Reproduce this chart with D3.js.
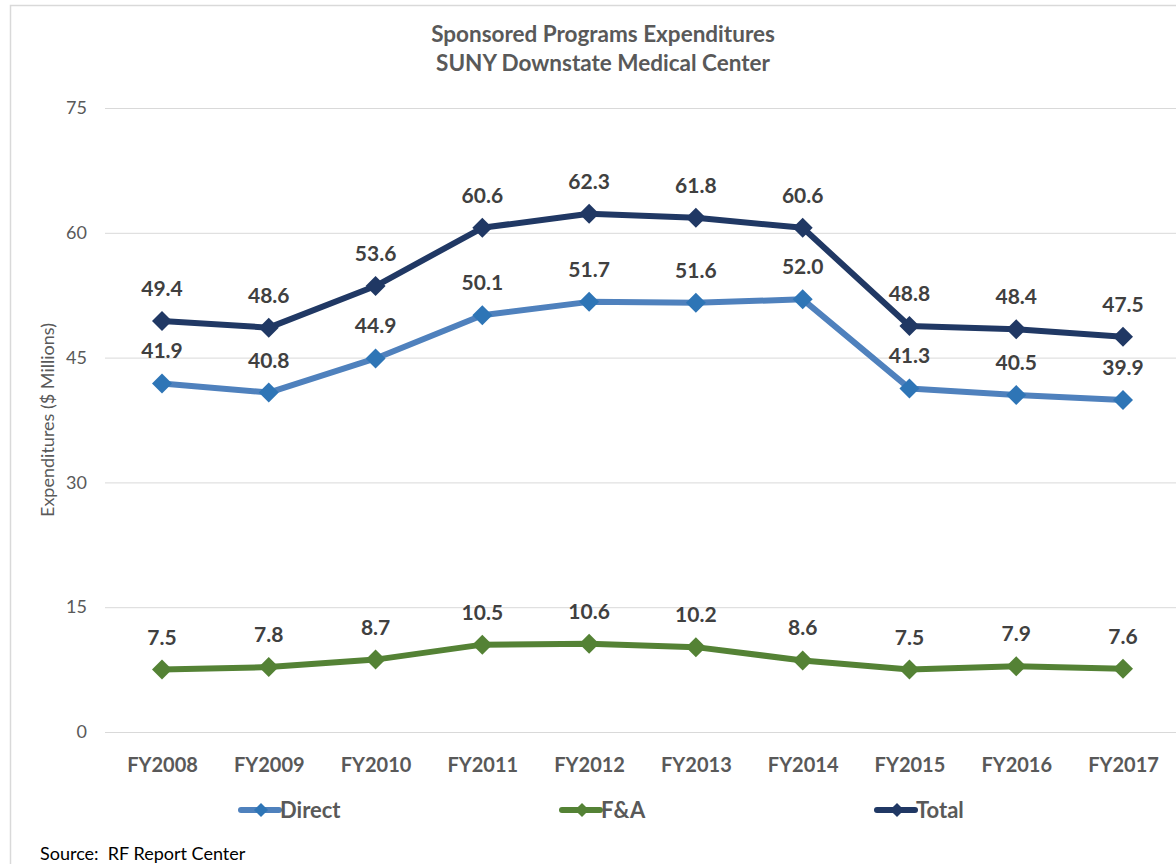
<!DOCTYPE html>
<html><head><meta charset="utf-8">
<script src="https://cdn.jsdelivr.net/npm/d3@7"></script>
<style>
html,body{margin:0;padding:0;background:#fff;}
svg{display:block;font-family:Lato,"Open Sans",sans-serif;}
</style></head>
<body>
<svg id="chart" width="1176" height="864"></svg>
<script>
const categories = ["FY2008","FY2009","FY2010","FY2011","FY2012","FY2013","FY2014","FY2015","FY2016","FY2017"];
const direct = [41.9, 40.8, 44.9, 50.1, 51.7, 51.6, 52.0, 41.3, 40.5, 39.9];
const fa = [7.5, 7.8, 8.7, 10.5, 10.6, 10.2, 8.6, 7.5, 7.9, 7.6];
const total = [49.4, 48.6, 53.6, 60.6, 62.3, 61.8, 60.6, 48.8, 48.4, 47.5];
const yTicks = [0, 15, 30, 45, 60, 75];
const seriesNames = ["Direct", "F&A", "Total"];

const series = [
  {name: seriesNames[0], values: direct, line: "#4f81bd", marker: "#2e75b6"},
  {name: seriesNames[1], values: fa, line: "#548235", marker: "#548235"},
  {name: seriesNames[2], values: total, line: "#203864", marker: "#203864"}
];

const svg = d3.select("#chart");
svg.append("path").attr("d","M10.5,870 L10.5,5.5 L1180,5.5")
  .attr("fill","none").attr("stroke","#d9d9d9").attr("stroke-width",1.5);

const x = d3.scalePoint().domain(categories).range([162, 1123]);
const y = d3.scaleLinear().domain([0, 75]).range([732, 108]);

svg.append("g").selectAll("line").data(yTicks).join("line")
  .attr("x1", 105).attr("x2", 1176)
  .attr("y1", d => y(d)+0.5).attr("y2", d => y(d)+0.5)
  .attr("stroke", "#d9d9d9").attr("stroke-width", 1);

const yAxis = d3.axisLeft(y).tickValues(yTicks).tickSize(0).tickPadding(0);
const yg = svg.append("g").attr("transform","translate(87,0)").call(yAxis);
yg.select(".domain").remove();
yg.selectAll("text").attr("font-size",18).attr("fill","#595959").attr("font-family","Lato,sans-serif");

const xAxis = d3.axisBottom(x).tickSize(0).tickPadding(0);
const xg = svg.append("g").attr("transform","translate(0,758)").call(xAxis);
xg.select(".domain").remove();
xg.selectAll("text").attr("font-size",20).attr("font-weight","bold").attr("fill","#595959").attr("font-family","Lato,sans-serif");

svg.append("text").attr("x",603).attr("y",42).attr("text-anchor","middle")
  .attr("font-size",22.5).attr("font-weight","bold").attr("fill","#595959")
  .text("Sponsored Programs Expenditures");
svg.append("text").attr("x",603).attr("y",71).attr("text-anchor","middle")
  .attr("font-size",22.5).attr("font-weight","bold").attr("fill","#595959")
  .text("SUNY Downstate Medical Center");

svg.append("text").attr("transform","translate(54,420) rotate(-90)")
  .attr("text-anchor","middle").attr("font-size",18).attr("fill","#595959")
  .text("Expenditures ($ Millions)");

const line = d3.line().x((d,i) => x(categories[i])).y(d => y(d));

series.forEach(s => {
  const g = svg.append("g");
  g.append("path").datum(s.values).attr("d", line)
    .attr("fill","none").attr("stroke", s.line).attr("stroke-width",6)
    .attr("stroke-linejoin","round");
  g.selectAll("path.m").data(s.values).join("path").attr("class","m")
    .attr("d", d3.symbol().type(d3.symbolSquare).size(200))
    .attr("transform",(d,i)=>`translate(${x(categories[i])},${y(d)}) rotate(45)`)
    .attr("fill", s.marker);
  g.selectAll("text").data(s.values).join("text")
    .attr("x",(d,i)=>x(categories[i])).attr("y", d => y(d)-25)
    .attr("text-anchor","middle").attr("font-size",21).attr("font-weight","bold")
    .attr("fill","#404040").text(d => d.toFixed(1));
});

const legendX = [241, 562, 877];
const lg = svg.append("g").selectAll("g").data(series).join("g")
  .attr("transform",(d,i)=>`translate(${legendX[i]},810)`);
lg.append("line").attr("x1",0).attr("x2",38).attr("y1",0).attr("y2",0)
  .attr("stroke",d=>d.line).attr("stroke-width",6).attr("stroke-linecap","round");
lg.append("path").attr("d", d3.symbol().type(d3.symbolSquare).size(100))
  .attr("transform","translate(20,0) rotate(45)").attr("fill",d=>d.marker);
lg.append("text").attr("x",39).attr("y",8).attr("font-size",22).attr("font-weight","bold")
  .attr("fill","#595959").text(d=>d.name);

svg.append("text").attr("x",40).attr("y",860).attr("font-size",18).attr("fill","#000")
  .style("white-space","pre")
  .text("Source:  RF Report Center");
</script>
</body></html>
